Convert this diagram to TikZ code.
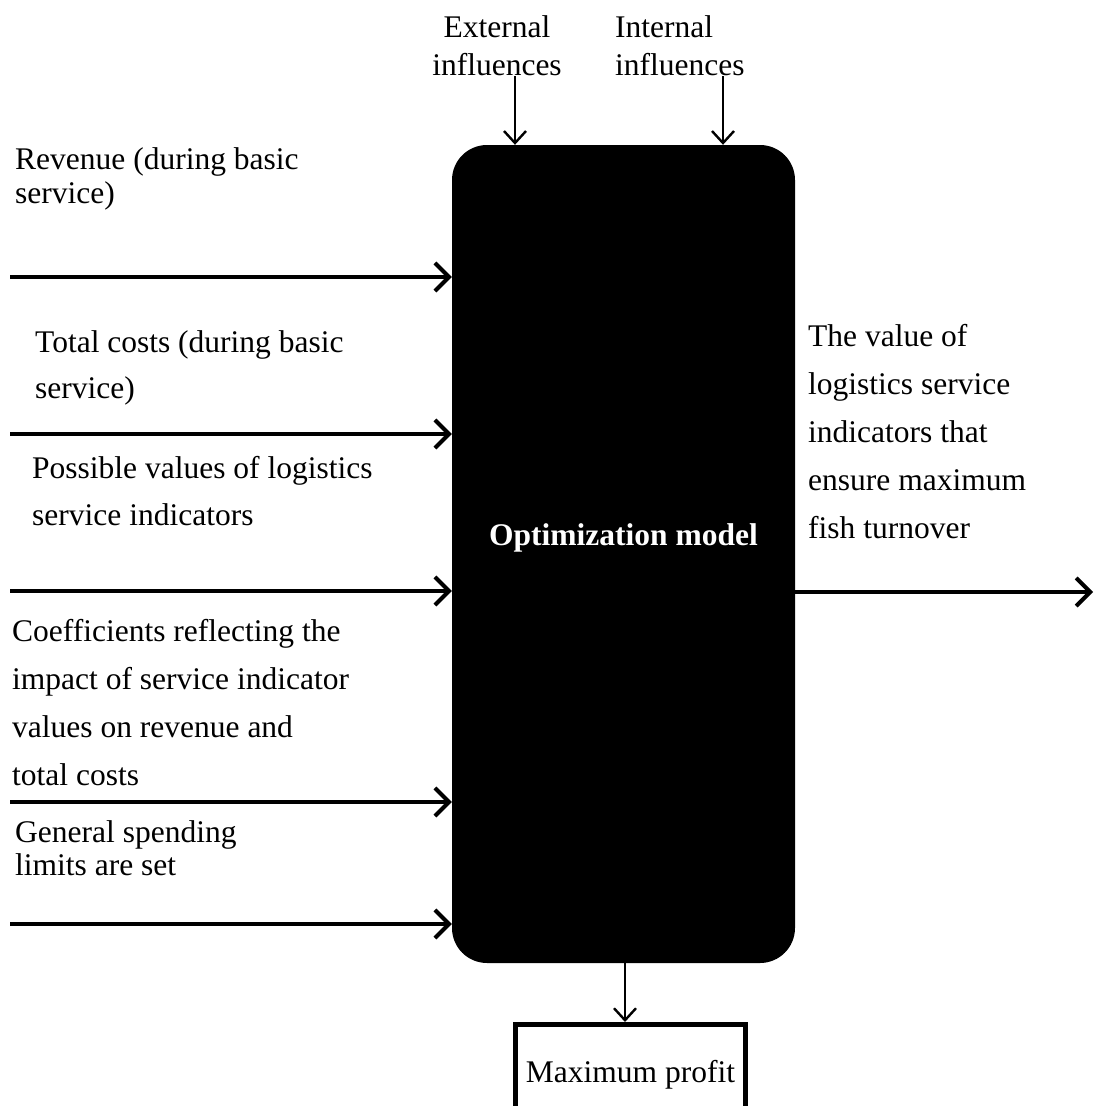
\documentclass[tikz,border=0pt]{standalone}
\usepackage{fontspec}
\setmainfont{Liberation Serif}
\usetikzlibrary{arrows.meta}
\begin{document}
\begin{tikzpicture}[x=1pt,y=-1pt,
  txt/.style={inner sep=0pt, anchor=base west, align=left},
  tight/.style={font=\fontsize{31.5}{34}\selectfont},
  loose/.style={font=\fontsize{31.5}{48}\selectfont},
  inarrow/.style={line width=4pt, -{Straight Barb[length=14pt,width=28pt]}},
  thinarrow/.style={line width=2.4pt, -{Straight Barb[length=12pt,width=22pt]}},
]
\useasboundingbox (0,0) rectangle (1095,1106);
\clip (0,0) rectangle (1095,1106);

% central block
\node[fill=black, rounded corners=35pt, minimum width=343pt, minimum height=818pt,
      inner sep=0pt, text=white, font=\fontsize{31.5}{34}\selectfont\bfseries,
      text height=22pt, text depth=40pt] (model) at (623.5,554) {Optimization model};

% result box
\node[draw, line width=5pt, minimum width=230pt, minimum height=100pt, anchor=north,
      inner sep=0pt, font=\fontsize{31.5}{34}\selectfont] (profit) at (630.5,1022) {Maximum profit};

% labels (anchor = baseline of the last line)
\node[txt,tight] (rev) at (15,203) {Revenue (during basic\\service)};
\node[txt,font=\fontsize{31.5}{46}\selectfont] (tc) at (35,398) {Total costs (during basic\\service)};
\node[txt,font=\fontsize{31.5}{47}\selectfont] (pv) at (32,525) {Possible values of logistics\\service indicators};
\node[txt,loose] (co) at (12,785) {Coefficients reflecting the\\impact of service indicator\\values on revenue and\\total costs};
\node[txt,font=\fontsize{31.5}{33}\selectfont] (gs) at (15,875) {General spending\\limits are set};
\node[txt,loose] (out) at (808,538) {The value of\\logistics service\\indicators that\\ensure maximum\\fish turnover};
\node[inner sep=0pt, anchor=base, align=center, font=\fontsize{31.5}{38}\selectfont] (ext) at (497,75) {External\\influences};
\node[txt, font=\fontsize{31.5}{38}\selectfont] (int) at (615,75) {Internal\\influences};

% input arrows
\coordinate (s1) at (10,277);
\coordinate (s2) at (10,434);
\coordinate (s3) at (10,591);
\coordinate (s4) at (10,802);
\coordinate (s5) at (10,924);
\foreach \s in {s1,s2,s3,s4,s5}
  \draw[inarrow] (\s) -- (\s -| model.west);

% output arrow
\coordinate (o1) at (1093,592);
\draw[inarrow] (o1 -| model.east) -- (o1);

% influence arrows
\coordinate (t1) at (515,76);
\coordinate (t2) at (723,76);
\draw[thinarrow] (t1) -- (t1 |- model.north);
\draw[thinarrow] (t2) -- (t2 |- model.north);

% result arrow
\coordinate (b1) at (625,0);
\draw[thinarrow] (b1 |- model.south) -- (b1 |- profit.north);
\end{tikzpicture}
\end{document}
